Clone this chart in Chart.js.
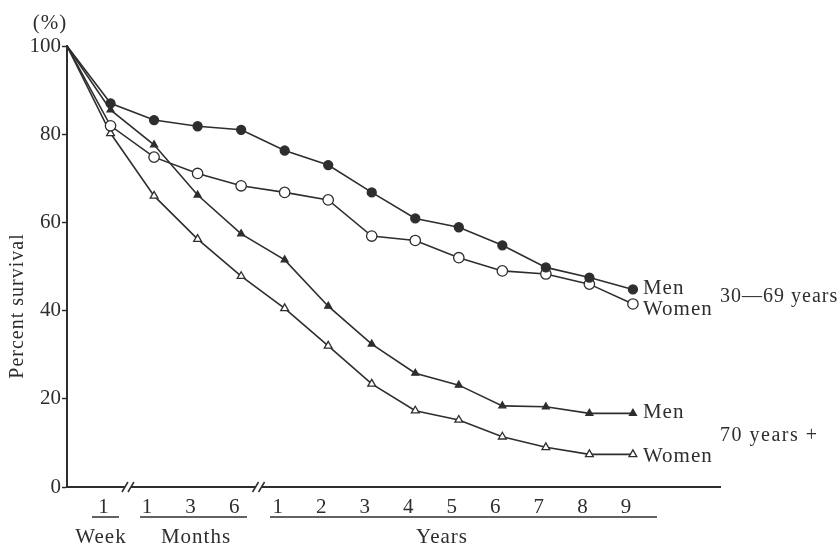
<!DOCTYPE html>
<html>
<head>
<meta charset="utf-8">
<script src="https://cdn.jsdelivr.net/npm/chart.js@4.4.1/dist/chart.umd.min.js"></script>
<style>
  html, body { margin: 0; padding: 0; background: #fff; }
  #wrap { width: 840px; height: 548px; }
</style>
</head>
<body>
<div id="wrap"><canvas id="graphique" width="840" height="548"></canvas></div>
<script>
// temps de suivi : 0, 1 semaine, 1/3/6 mois, 1..9 ans
const tempsSuivi = ["0", "1 week", "1 month", "3 months", "6 months",
  "1 year", "2 years", "3 years", "4 years", "5 years", "6 years", "7 years", "8 years", "9 years"];
const xTickLabels = ["1", "1", "3", "6", "1", "2", "3", "4", "5", "6", "7", "8", "9"];
const yTicks = [0, 20, 40, 60, 80, 100];

// survie en %
const hommes30_69 = [100, 87, 83.2, 81.8, 81, 76.3, 73, 66.8, 60.9, 58.9, 54.8, 49.8, 47.5, 44.8];
const femmes30_69 = [100, 81.9, 74.8, 71.1, 68.3, 66.8, 65.1, 56.9, 55.9, 52, 49, 48.3, 46, 41.5];
const hommes70 = [100, 85.5, 77.6, 66.2, 57.4, 51.5, 41, 32.4, 25.8, 23.1, 18.4, 18.2, 16.7, 16.7];
const femmes70 = [100, 80.2, 66, 56.2, 47.8, 40.5, 32, 23.4, 17.3, 15.2, 11.4, 9, 7.4, 7.4];

const groupes = ["Week", "Months", "Years"];

const encre = "#2e2e2e";
const police = "'Liberation Serif', 'DejaVu Serif', serif";

function points(valeurs) {
  return valeurs.map((v, i) => ({ x: i, y: v }));
}
function serie(label, valeurs, style, plein, rayon) {
  return {
    label: label,
    data: points(valeurs),
    borderColor: encre,
    borderWidth: 1.6,
    tension: 0,
    pointStyle: style,
    pointRadius: ctx => ctx.dataIndex === 0 ? 0 : rayon,
    pointBackgroundColor: plein ? encre : "#ffffff",
    pointBorderColor: encre,
    pointBorderWidth: 1.3
  };
}

// Textes, coupures d'axe et groupes sous l'axe x
const decor = {
  id: "decor",
  afterDraw(chart) {
    const ctx = chart.ctx;
    const x = chart.scales.x;
    const y = chart.scales.y;
    const bas = chart.chartArea.bottom;
    ctx.save();
    ctx.fillStyle = encre;
    ctx.strokeStyle = encre;
    ctx.textBaseline = "middle";

    // (%)
    ctx.font = "21px " + police;
    ctx.textAlign = "center";
    ctx.letterSpacing = "1px";
    ctx.fillText("(%)", 50, 23);

    // titre de l'axe y
    ctx.save();
    ctx.translate(18, 306);
    ctx.rotate(-Math.PI / 2);
    ctx.font = "20px " + police;
    ctx.fillText("Percent survival", 0, 0);
    ctx.restore();

    // coupures //
    [1.4, 4.4].forEach(v => {
      const px = x.getPixelForValue(v);
      ctx.fillStyle = "#ffffff";
      ctx.fillRect(px - 3, bas - 3, 6, 6);
      ctx.lineWidth = 1.5;
      [-3, 3].forEach(d => {
        ctx.beginPath();
        ctx.moveTo(px + d - 3, bas + 5);
        ctx.lineTo(px + d + 3, bas - 5);
        ctx.stroke();
      });
    });

    // groupes : trait + libellé
    ctx.fillStyle = encre;
    ctx.lineWidth = 1.5;
    ctx.font = "21px " + police;
    const traits = [[92, 119], [140, 247], [270, 657]];
    const centres = [101, 196, 442];
    groupes.forEach((g, i) => {
      ctx.beginPath();
      ctx.moveTo(traits[i][0], bas + 30);
      ctx.lineTo(traits[i][1], bas + 30);
      ctx.stroke();
      ctx.textAlign = "center";
      ctx.fillText(g, centres[i], bas + 50);
    });

    // libellés en bout de courbe
    const dernier = hommes30_69.length - 1;
    const xFin = x.getPixelForValue(dernier) + 10;
    ctx.textAlign = "left";
    ctx.fillText("Men", xFin, y.getPixelForValue(hommes30_69[dernier]) - 1);
    ctx.fillText("Women", xFin, y.getPixelForValue(femmes30_69[dernier]) + 5);
    ctx.fillText("Men", xFin, y.getPixelForValue(hommes70[dernier]) - 1);
    ctx.fillText("Women", xFin, y.getPixelForValue(femmes70[dernier]) + 2);
    ctx.font = "20px " + police;
    ctx.fillText("30\u201469 years", 720, 297);
    ctx.letterSpacing = "1.5px";
    ctx.fillText("70 years +", 720, 436);
    ctx.restore();
  }
};

new Chart(document.querySelector("#graphique"), {
  type: "line",
  data: {
    labels: tempsSuivi,
    datasets: [
      serie("Men 30-69 years", hommes30_69, "circle", true, 4.5),
      serie("Women 30-69 years", femmes30_69, "circle", false, 5.2),
      serie("Men 70 years +", hommes70, "triangle", true, 4),
      serie("Women 70 years +", femmes70, "triangle", false, 4.5)
    ]
  },
  options: {
    responsive: false,
    animation: false,
    devicePixelRatio: 1,
    layout: { padding: { left: 0, top: 46, right: 120, bottom: 0 } },
    plugins: {
      legend: { display: false },
      tooltip: { enabled: false }
    },
    scales: {
      x: {
        type: "linear",
        min: 0,
        max: 15,
        grid: { display: false, drawTicks: false },
        border: { display: true, color: encre, width: 2 },
        afterBuildTicks: scale => {
          scale.ticks = xTickLabels.map((l, i) => ({ value: i + 1 }));
        },
        afterFit: scale => { scale.height = 61; },
        ticks: {
          autoSkip: false,
          maxRotation: 0,
          padding: 8,
          labelOffset: -7,
          color: encre,
          font: { family: police, size: 21 },
          callback: (v, i) => xTickLabels[i]
        }
      },
      y: {
        min: 0,
        max: 100,
        afterBuildTicks: scale => {
          scale.ticks = yTicks.map(v => ({ value: v }));
        },
        afterFit: scale => { scale.width = 67; },
        grid: { drawOnChartArea: false, tickLength: 5, tickColor: encre, tickWidth: 1.5 },
        border: { display: true, color: encre, width: 2 },
        ticks: {
          padding: 1,
          color: encre,
          font: { family: police, size: 21 }
        }
      }
    }
  },
  plugins: [decor]
});
</script>
</body>
</html>
